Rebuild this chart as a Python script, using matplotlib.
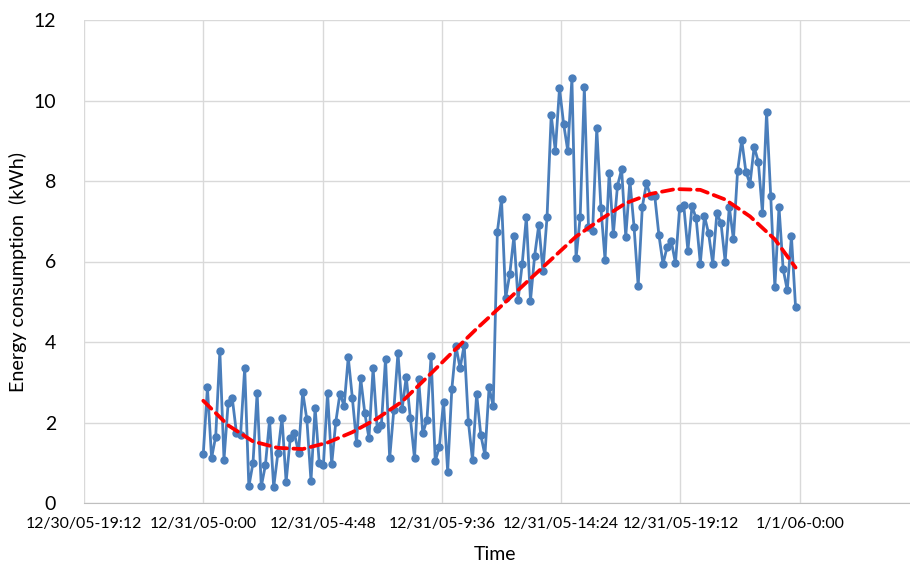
import matplotlib
matplotlib.use("Agg")
import matplotlib.pyplot as plt
from datetime import datetime, timedelta

# 10-minute readings for 12/31/05 (kWh)
start_time = datetime(2005, 12, 31, 0, 0)
step_minutes = 10
energy = [
    1.22, 2.87, 1.12, 1.65, 3.77, 1.08, 2.48, 2.60, 1.75, 1.69,
    3.36, 0.41, 0.99, 2.74, 0.41, 0.94, 2.06, 0.39, 1.23, 2.12,
    0.52, 1.61, 1.73, 1.25, 2.76, 2.08, 0.55, 2.37, 0.99, 0.94,
    2.74, 0.96, 2.02, 2.72, 2.41, 3.62, 2.60, 1.50, 3.10, 2.23,
    1.61, 3.35, 1.83, 1.94, 3.59, 1.11, 2.31, 3.73, 2.33, 3.14,
    2.10, 1.11, 3.07, 1.73, 2.07, 3.65, 1.04, 1.40, 2.52, 0.78,
    2.82, 3.90, 3.35, 3.93, 2.02, 1.07, 2.71, 1.69, 1.19, 2.87,
    2.41, 6.74, 7.55, 5.09, 5.69, 6.63, 5.04, 5.94, 7.11, 5.03,
    6.14, 6.91, 5.77, 7.11, 9.64, 8.75, 10.30, 9.42, 8.75, 10.55,
    6.08, 7.11, 10.33, 6.86, 6.75, 9.31, 7.34, 6.04, 8.21, 6.68,
    7.88, 8.29, 6.62, 8.01, 6.86, 5.39, 7.36, 7.94, 7.63, 7.63,
    6.66, 5.94, 6.37, 6.50, 5.96, 7.32, 7.40, 6.27, 7.38, 7.07,
    5.95, 7.13, 6.70, 5.95, 7.20, 6.95, 6.00, 7.36, 6.55, 8.25,
    9.02, 8.23, 7.93, 8.85, 8.48, 7.21, 9.71, 7.63, 5.36, 7.35,
    5.81, 5.29, 6.63, 4.86,
]

# trend curve (red dashed) at each hour, last one at 23:50
trend_hours = [0, 1, 2, 3, 4, 5, 6, 7, 8, 9, 10, 11, 12,
               13, 14, 15, 16, 17, 18, 19, 20, 21, 22, 23, 23 + 5 / 6]
trend = [2.54, 1.93, 1.53, 1.37, 1.34, 1.50, 1.76, 2.10, 2.52, 3.12, 3.73, 4.33, 4.90,
         5.48, 6.05, 6.62, 7.05, 7.45, 7.68, 7.80, 7.78, 7.54, 7.12, 6.55, 5.85]

# x axis ticks: every 4.8 hours from 12/30/05 19:12
tick_start = datetime(2005, 12, 30, 19, 12)
tick_step = timedelta(hours=4.8)
tick_count = 7
y_ticks = [0, 2, 4, 6, 8, 10, 12]

times = [start_time + timedelta(minutes=step_minutes * i) for i in range(len(energy))]
trend_times = [start_time + timedelta(hours=h) for h in trend_hours]

ticks = [tick_start + tick_step * i for i in range(tick_count)]
tick_labels = ["%d/%d/%s-%d:%02d" % (d.month, d.day, d.strftime("%y"), d.hour, d.minute) for d in ticks]

font = ["Lato", "DejaVu Sans"]

fig = plt.figure(figsize=(9.1, 5.69), dpi=100)
ax = fig.add_axes([84 / 910, 1 - 503 / 569, 835 / 910, 483 / 569])

ax.plot(times, energy, color="#4A7EBB", lw=2.0, marker="o", ms=5.0, zorder=3)
ax.plot(trend_times, trend, color="#FF0000", lw=2.7, dashes=(3.0, 1.7),
        dash_capstyle="round", zorder=4)

ax.set_xlim(tick_start, tick_start + tick_step * 7)
ax.set_ylim(0, 12)
ax.set_xticks(ticks)
ax.set_xticklabels(tick_labels, fontsize=11.4, family=font)
ax.set_yticks(y_ticks)
ax.set_yticklabels([str(v) for v in y_ticks], fontsize=14, family=font)
ax.tick_params(axis="both", length=0)
ax.tick_params(axis="y", pad=20)
ax.tick_params(axis="x", pad=10)

ax.grid(True, color="#D9D9D9", lw=1)
ax.set_axisbelow(True)
for side in ["left", "top", "right"]:
    ax.spines[side].set_visible(False)
ax.spines["bottom"].set_color("#BFBFBF")

ax.set_xlabel("Time", fontsize=14, family=font)
ax.xaxis.set_label_coords((495 - 84) / 835, (503 - 555) / 483)
ax.xaxis.label.set_va("center")
ax.set_ylabel("Energy consumption  (kWh)", fontsize=14.2, family=font)
ax.yaxis.set_label_coords((18 - 84) / 835, (503 - 272) / 483)
ax.yaxis.label.set_va("center")

fig.savefig("out.png", dpi=100)
